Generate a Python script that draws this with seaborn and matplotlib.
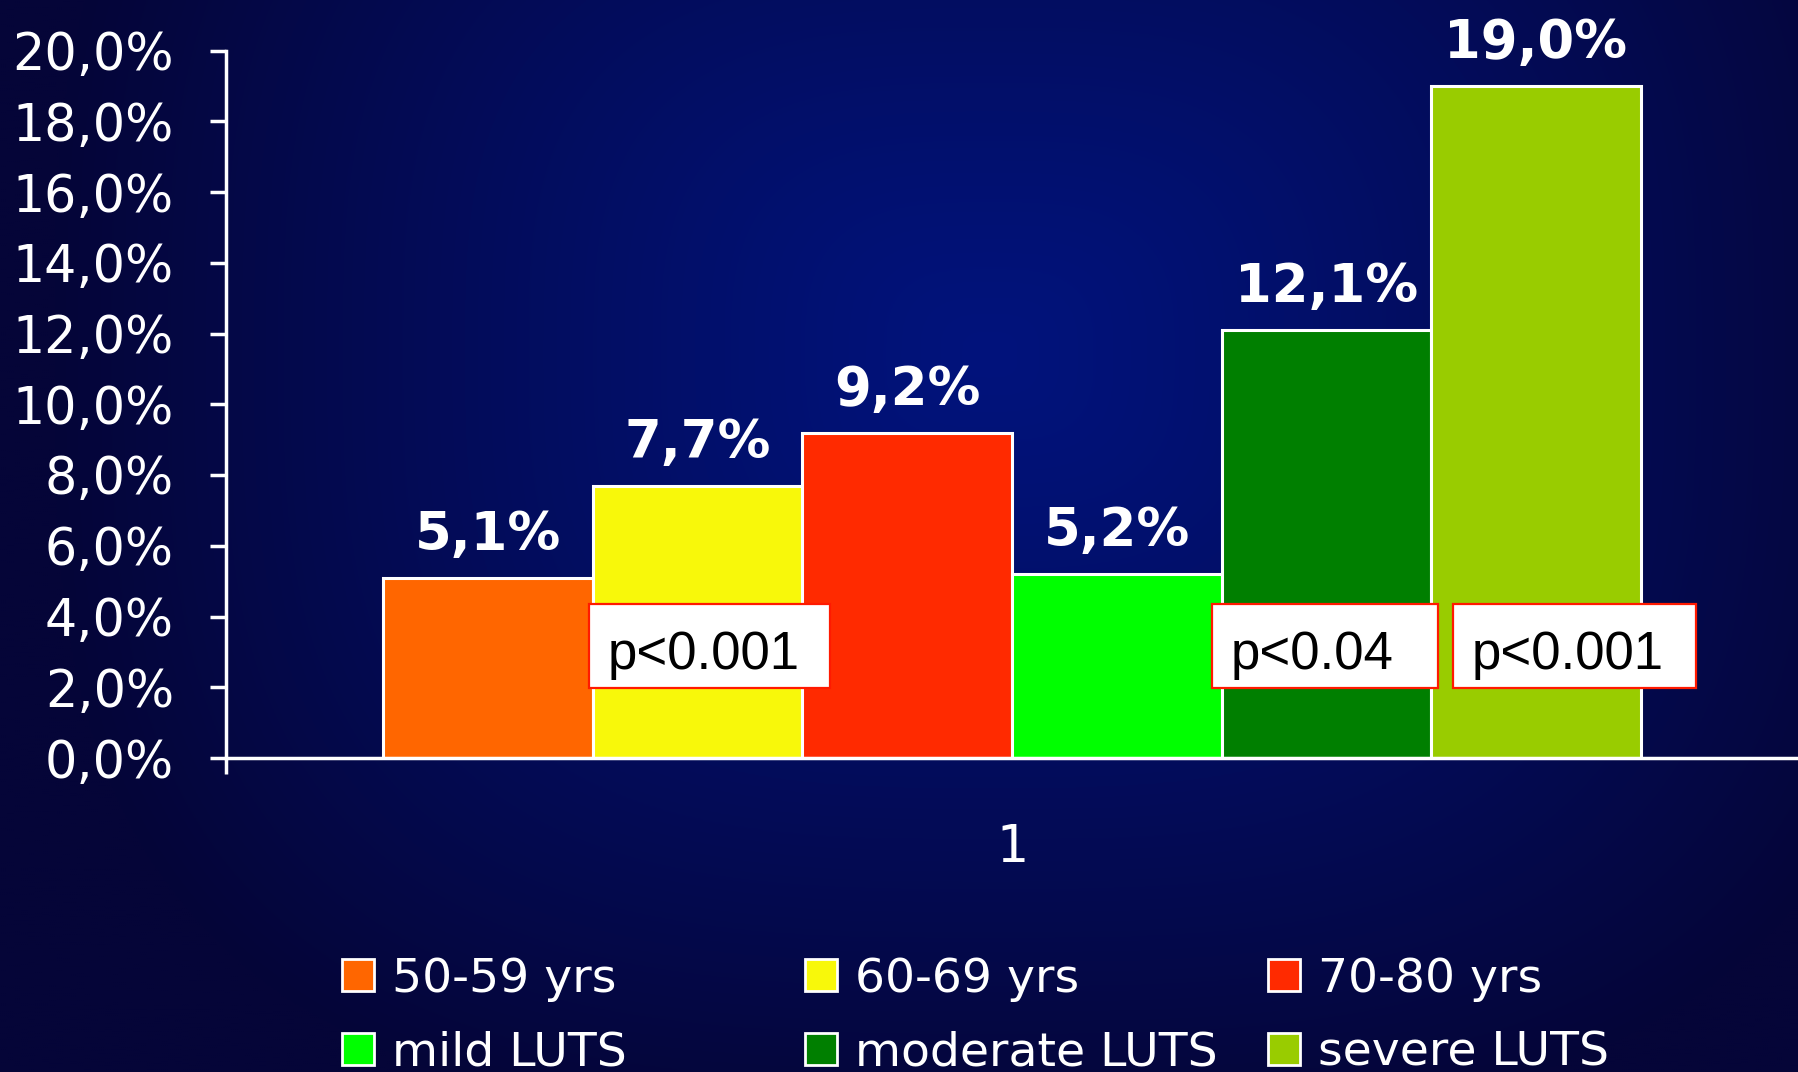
import numpy as np
import pandas as pd
import matplotlib
matplotlib.use("Agg")
import matplotlib.pyplot as plt
from matplotlib.patches import Patch, Rectangle
import seaborn as sns

# --- data -------------------------------------------------------------
groups = ["50-59 yrs", "60-69 yrs", "70-80 yrs",
          "mild LUTS", "moderate LUTS", "severe LUTS"]
values = [5.1, 7.7, 9.2, 5.2, 12.1, 19.0]          # percent
bar_colors = ["#FF6600", "#F8F80A", "#FF2A00",
              "#00FF00", "#007F00", "#99CC00"]
category = ["1"] * len(groups)
y_ticks = [0, 2, 4, 6, 8, 10, 12, 14, 16, 18, 20]  # percent
p_labels = ["p<0.001", "p<0.04", "p<0.001"]

df = pd.DataFrame({"cat": category, "group": groups,
                   "value": [v / 100 for v in values]})

sns.set_theme(style="white")
plt.rcParams["font.family"] = ["DejaVu Sans"]

W, H, DPI = 17.98, 10.72, 100
fig = plt.figure(figsize=(W, H), dpi=DPI)

# --- navy gradient backdrop ------------------------------------------
bg = fig.add_axes([0, 0, 1, 1], zorder=-10)
ny, nx = 540, 900
yy, xx = np.mgrid[0:ny, 0:nx]
dx = (xx / nx - 0.55) / 0.52
dy = (yy / ny - 0.33) / 0.72
r = np.clip((np.abs(dx) ** 3 + np.abs(dy) ** 3) ** (1 / 3), 0, 1)
r = r ** 1.2
inner = np.array([0x01, 0x13, 0x7C]) / 255
outer = np.array([0x05, 0x05, 0x38]) / 255
img = inner[None, None, :] * (1 - r[..., None]) + outer[None, None, :] * r[..., None]
bg.imshow(img, aspect="auto", extent=[0, 1, 0, 1], origin="upper")
bg.set_axis_off()

# --- bars -------------------------------------------------------------
ax = fig.add_axes([226 / 1798, 1 - 758 / 1072, 1 - 226 / 1798, (758 - 50.5) / 1072])
ax.set_facecolor("none")
sns.barplot(data=df, x="cat", y="value", hue="group", hue_order=groups,
            palette=bar_colors, saturation=1, edgecolor="white",
            linewidth=2.2, legend=False, ax=ax, err_kws={"linewidth": 0})

ax.set_xlim(-0.5, 0.5)
ax.set_ylim(0, 0.20)
ax.set_xlabel("")
ax.set_ylabel("")
ax.set_yticks([t / 100 for t in y_ticks])
ax.set_yticklabels([f"{t:.1f}".replace(".", ",") + "%" for t in y_ticks])

for side in ("top", "right"):
    ax.spines[side].set_visible(False)
for side in ("left", "bottom"):
    ax.spines[side].set_color("white")
    ax.spines[side].set_linewidth(2.5)

ax.tick_params(axis="y", colors="white", labelcolor="white", labelsize=36.5,
               length=11.5, width=2.5, direction="out", pad=26, left=True)
ax.tick_params(axis="x", which="major", length=0, labelcolor="white",
               labelsize=36.5, pad=47)
ax.set_xticks([-0.5], minor=True)
ax.tick_params(axis="x", which="minor", bottom=True, length=11.5, width=2.5,
               color="white", direction="out")

# value labels above each bar
bars = [p for c in ax.containers for p in c]
for p, v in zip(bars, values):
    ax.annotate(f"{v:.1f}".replace(".", ",") + "%",
                (p.get_x() + p.get_width() / 2, p.get_height()),
                xytext=(0, 20), textcoords="offset points",
                ha="center", va="baseline", color="white",
                fontsize=38, fontweight="bold")

# significance boxes
box_x = [(-0.269, -0.116), (0.127, 0.271), (0.2805, 0.435)]
box_y = (0.0198, 0.0435)
for (x0, x1), lab in zip(box_x, p_labels):
    ax.add_patch(Rectangle((x0, box_y[0]), x1 - x0, box_y[1] - box_y[0],
                           facecolor="white", edgecolor="#FF1A00",
                           linewidth=1.6, zorder=5))
    ax.text(x0 + 0.012, 0.0253, lab, ha="left", va="baseline",
            fontsize=38, color="black", family="Liberation Sans", zorder=6)

# --- legend: three columns, two rows ---------------------------------
col_x = [342 / 1798, 805 / 1798, 1268 / 1798]
for c in range(3):
    idx = [c, c + 3]
    handles = [Patch(facecolor=bar_colors[i], edgecolor="white", linewidth=2)
               for i in idx]
    fig.legend(handles, [groups[i] for i in idx],
               loc="center left", bbox_to_anchor=(col_x[c], 1 - 1016 / 1072),
               frameon=False, fontsize=34, labelcolor="white",
               handlelength=0.68, handleheight=0.68, handletextpad=0.38,
               labelspacing=0.61, borderpad=0, borderaxespad=0)

fig.savefig("out.png", dpi=DPI)
